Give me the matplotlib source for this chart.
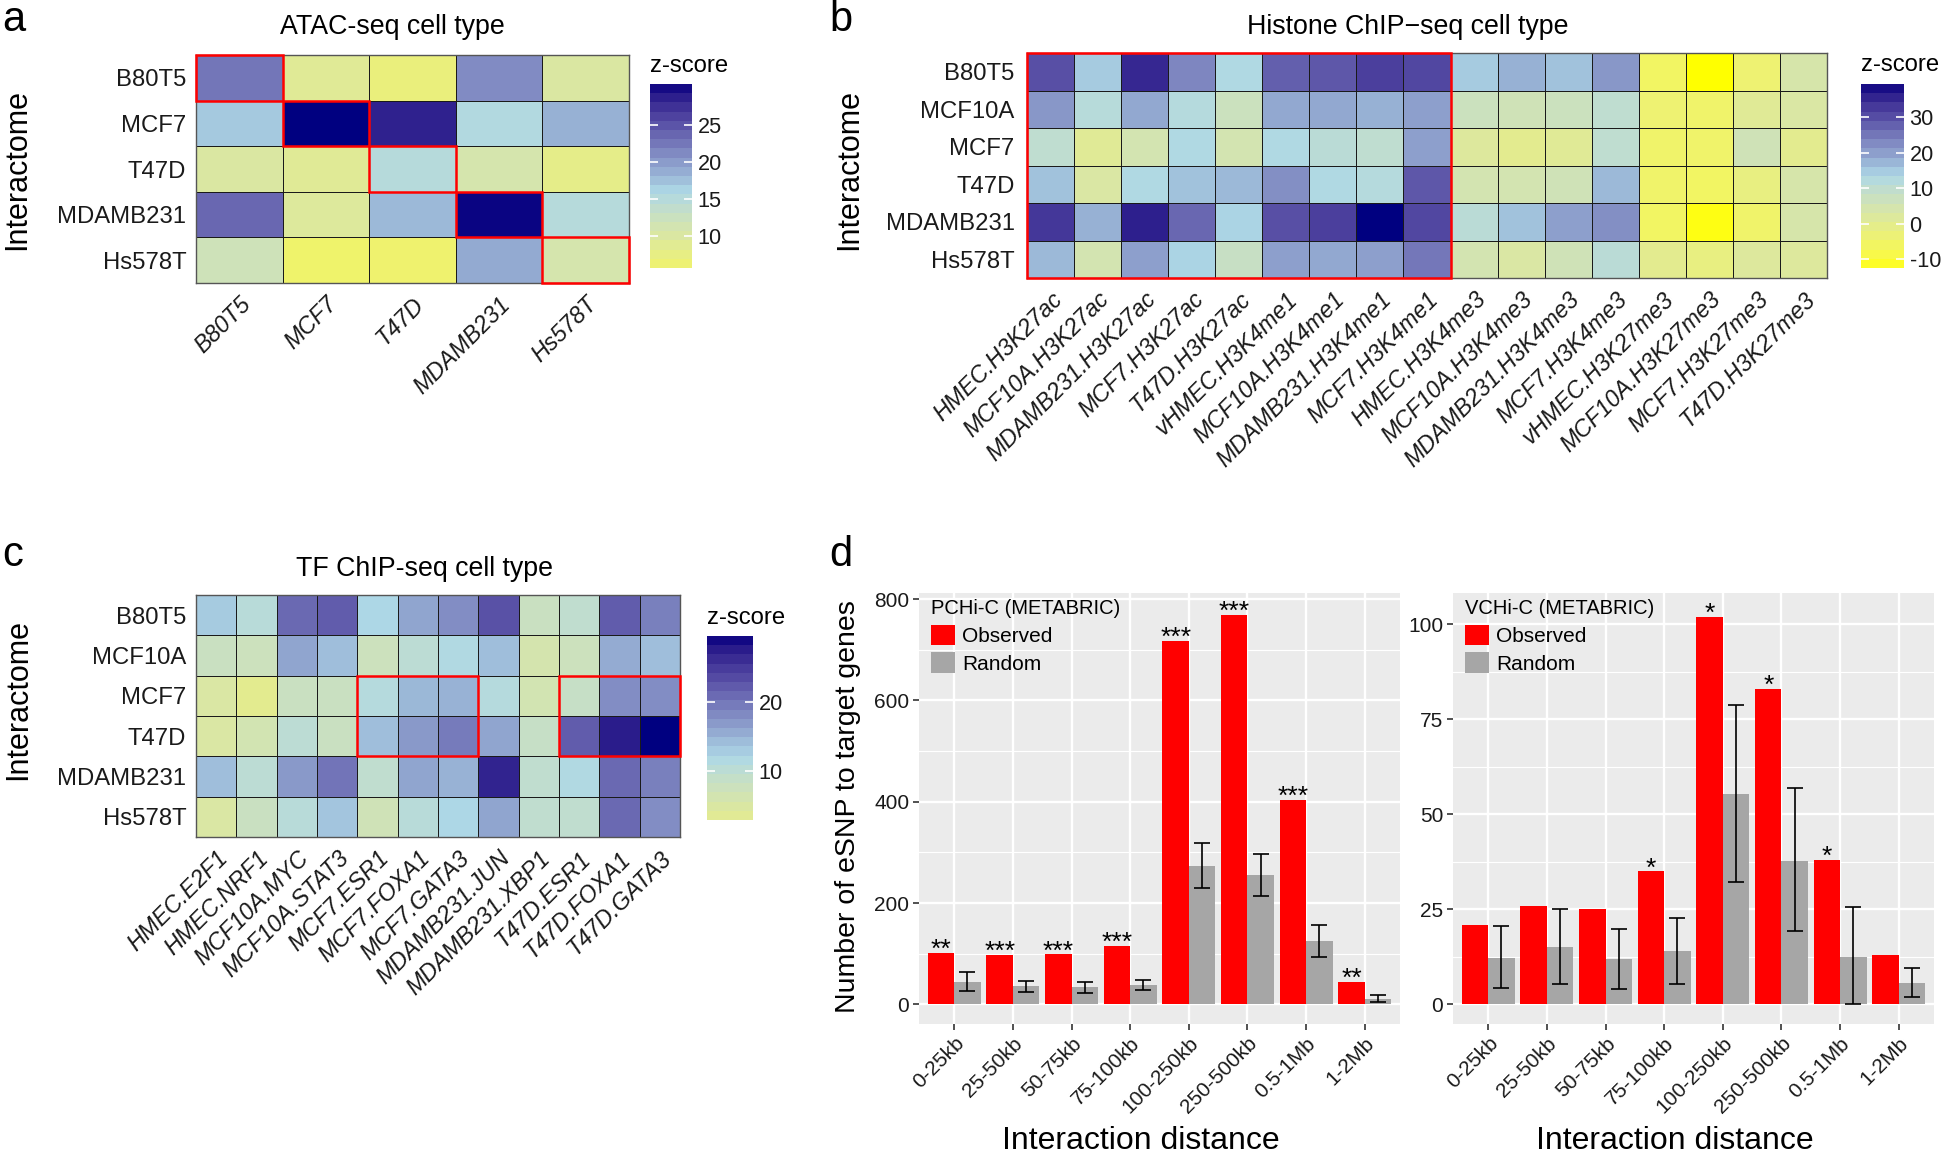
import numpy as np
import matplotlib
matplotlib.use("Agg")
import matplotlib.pyplot as plt
from matplotlib import font_manager
from matplotlib.colors import ListedColormap, Normalize, to_rgb
from matplotlib.patches import Rectangle

plt.rcParams['font.family'] = ['Liberation Sans', 'DejaVu Sans']

# heatmap panels use a condensed face
names = {f.name for f in font_manager.fontManager.ttflist}
if 'Liberation Sans Narrow' in names:
    HM_FAM = ['Liberation Sans Narrow', 'Liberation Sans', 'DejaVu Sans']
    K = 1.0
else:
    HM_FAM = ['Liberation Sans', 'DejaVu Sans']
    K = 0.82

W, H = 1946, 1156

# ---------------- data ----------------
# a: ATAC-seq
atac_rows = ["B80T5", "MCF7", "T47D", "MDAMB231", "Hs578T"]
atac_cols = ["B80T5", "MCF7", "T47D", "MDAMB231", "Hs578T"]
atac_z = [
    [22.5, 9.0, 7.0, 21.0, 10.0],
    [17.0, 30.5, 28.5, 15.5, 18.5],
    [10.0, 9.0, 15.0, 11.0, 8.0],
    [23.5, 9.5, 18.0, 30.2, 15.0],
    [12.0, 5.7, 6.0, 19.0, 11.0],
]

# b: histone ChIP-seq
hist_rows = ["B80T5", "MCF10A", "MCF7", "T47D", "MDAMB231", "Hs578T"]
hist_cols = ["HMEC.H3K27ac", "MCF10A.H3K27ac", "MDAMB231.H3K27ac", "MCF7.H3K27ac",
             "T47D.H3K27ac", "vHMEC.H3K4me1", "MCF10A.H3K4me1", "MDAMB231.H3K4me1",
             "MCF7.H3K4me1", "HMEC.H3K4me3", "MCF10A.H3K4me3", "MDAMB231.H3K4me3",
             "MCF7.H3K4me3", "vHMEC.H3K27me3", "MCF10A.H3K27me3", "MCF7.H3K27me3",
             "T47D.H3K27me3"]
hist_z = [
    [30, 15, 35, 23, 13, 28, 29, 32, 31, 15, 18, 16, 21, -6, -12.5, -4, 4],
    [21, 11.5, 19, 12, 7, 19, 19, 18, 20, 7, 6, 7, 10, -4, -5, 1, 3],
    [10, 1, 5, 13, 5, 13, 11, 10, 20, 2, 0, 1, 10, -5, -5, 6, 0],
    [16, 3, 13, 16, 17, 22, 13, 12, 29, 5, 5, 6, 17, -5, -6, -2, 4],
    [33, 18, 36, 27, 14, 30, 32, 39.4, 31, 11, 16, 20, 22, -6, -12, -5, 4],
    [17, 5, 20, 14, 8, 20, 19, 20, 25, 5, 3, 6, 11, 0, -2, 2, 2],
]

# c: TF ChIP-seq
tf_rows = ["B80T5", "MCF10A", "MCF7", "T47D", "MDAMB231", "Hs578T"]
tf_cols = ["HMEC.E2F1", "HMEC.NRF1", "MCF10A.MYC", "MCF10A.STAT3", "MCF7.ESR1",
           "MCF7.FOXA1", "MCF7.GATA3", "MDAMB231.JUN", "MDAMB231.XBP1", "T47D.ESR1",
           "T47D.FOXA1", "T47D.GATA3"]
tf_z = [
    [13, 10.5, 21, 22, 12, 16, 18, 23, 8, 9.5, 22, 19],
    [8, 7.5, 16, 14, 7.5, 10, 11.5, 14, 6, 7.5, 15.5, 14],
    [5, 2.85, 8, 8, 11, 14.5, 15, 11, 6.5, 8.5, 18, 18],
    [5, 6.5, 10, 8, 14, 17, 19.5, 16, 8.5, 22, 27.5, 29.5],
    [14, 10, 17, 20, 9.5, 16, 15, 27, 9.5, 11.5, 21, 19],
    [5, 8, 10.5, 13.5, 7, 10.5, 12, 16, 9.5, 9.5, 21, 18],
]

# d: eSNP counts by interaction distance
distances = ["0-25kb", "25-50kb", "50-75kb", "75-100kb", "100-250kb",
             "250-500kb", "0.5-1Mb", "1-2Mb"]
obs_pchic = [102, 98, 99, 116, 718, 769, 404, 45]
rnd_pchic = [44, 36, 34, 38, 273, 255, 125, 10]
lo_pchic = [27, 24, 22, 28, 230, 214, 94, 4]
hi_pchic = [63, 47, 45, 49, 318, 296, 157, 18]
stars_pchic = ["**", "***", "***", "***", "***", "***", "***", "**"]

obs_vchic = [21, 26, 25, 35, 102, 83, 38, 13]
rnd_vchic = [12.3, 15.2, 12.0, 14.1, 55.3, 37.8, 12.6, 5.7]
lo_vchic = [4.2, 5.3, 4.0, 5.5, 32.1, 19.2, 0.0, 1.9]
hi_vchic = [20.6, 25.1, 19.9, 22.7, 78.8, 56.9, 25.5, 9.6]
stars_vchic = ["", "", "", "*", "*", "*", "*", ""]


# ---------------- colour scale (yellow - lightblue - navy, Lab space) ----------------
M = np.array([[0.4124, 0.3576, 0.1805],
              [0.2126, 0.7152, 0.0722],
              [0.0193, 0.1192, 0.9505]])
WP = np.array([0.95047, 1.0, 1.08883])


def to_lab(c):
    c = np.asarray(c, float)
    lin = np.where(c <= 0.04045, c / 12.92, ((c + 0.055) / 1.055) ** 2.4)
    xyz = (M @ lin) / WP
    f = np.where(xyz > (6 / 29) ** 3, np.cbrt(xyz), xyz / (3 * (6 / 29) ** 2) + 4 / 29)
    return np.array([116 * f[1] - 16, 500 * (f[0] - f[1]), 200 * (f[1] - f[2])])


def from_lab(lab):
    fy = (lab[0] + 16) / 116
    f = np.array([fy + lab[1] / 500, fy, fy - lab[2] / 200])
    xyz = np.where(f > 6 / 29, f ** 3, 3 * (6 / 29) ** 2 * (f - 4 / 29)) * WP
    lin = np.clip(np.linalg.inv(M) @ xyz, 0, 1)
    return np.clip(np.where(lin <= 0.0031308, 12.92 * lin, 1.055 * lin ** (1 / 2.4) - 0.055), 0, 1)


labs = [to_lab(to_rgb(c)) for c in ["yellow", "lightblue", "navy"]]
cols_lab = []
for t in np.linspace(0, 1, 256):
    s = t * 2
    i = min(int(s), 1)
    f = s - i
    cols_lab.append(from_lab(labs[i] * (1 - f) + labs[i + 1] * f))
cmap = ListedColormap(cols_lab)

fig = plt.figure(figsize=(W / 100, H / 100), dpi=100)


def px_axes(x0, y0, x1, y1):
    return fig.add_axes([x0 / W, 1 - y1 / H, (x1 - x0) / W, (y1 - y0) / H])


def ftext(x, y, s, **kw):
    fig.text(x / W, 1 - y / H, s, **kw)


def heatmap(box, cbox, z, rows, cols, mid, cticks, boxes, ypad):
    z = np.array(z, float)
    lo, hi = z.min(), z.max()
    d = max(hi - mid, mid - lo)
    norm = Normalize(mid - d, mid + d)
    ax = px_axes(*box)
    ax.pcolormesh(z, cmap=cmap, norm=norm, edgecolors="#1a1a1a", linewidth=0.7)
    ax.set_xlim(0, len(cols))
    ax.set_ylim(len(rows), 0)
    ax.set_xticks(np.arange(len(cols)) + 0.5)
    ax.set_xticklabels(cols, rotation=45, ha="right", rotation_mode="anchor",
                       fontsize=20.5 * K, family=HM_FAM, style="italic")
    ax.set_yticks(np.arange(len(rows)) + 0.5)
    ax.set_yticklabels(rows, fontsize=21 * K, family=HM_FAM)
    ax.tick_params(length=0, colors="#1a1a1a")
    ax.tick_params(axis="y", pad=ypad)
    ax.tick_params(axis="x", pad=7)
    for sp in ax.spines.values():
        sp.set_color("#555555")
        sp.set_linewidth(1.0)
    for r0, c0, nr, nc in boxes:
        ax.add_patch(Rectangle((c0, r0), nc, nr, fill=False, ec="red", lw=1.8,
                               zorder=5, clip_on=False))
    # legend bar (20 bins like ggplot)
    cax = px_axes(*cbox)
    edges = np.linspace(lo, hi, 21)
    cax.pcolormesh([0, 1], edges, ((edges[:-1] + edges[1:]) / 2)[:, None],
                   cmap=cmap, norm=norm)
    cax.set_xlim(0, 1)
    cax.set_ylim(lo, hi)
    cax.set_xticks([])
    cax.yaxis.tick_right()
    cax.set_yticks(cticks)
    cax.set_yticklabels([str(v) for v in cticks], family=HM_FAM, fontsize=19 * K)
    cax.tick_params(axis="y", direction="in", length=6, width=1.2, color="white",
                    left=True, right=True, labelleft=False, labelright=True,
                    pad=4, labelcolor="#1a1a1a")
    for sp in cax.spines.values():
        sp.set_visible(False)
    return ax


hm_title = dict(ha="center", va="center", fontsize=23.5 * K, family=HM_FAM)
hm_ylab = dict(ha="center", va="center", rotation=90, fontsize=22)
hm_zlab = dict(ha="left", va="center", fontsize=21 * K, family=HM_FAM)

# a
heatmap((196, 55, 629, 283), (650, 84, 692, 268), atac_z, atac_rows, atac_cols,
        16.0, [10, 15, 20, 25], [(i, i, 1, 1) for i in range(5)], 7)
ftext(392, 27, "ATAC-seq cell type", **hm_title)
ftext(17, 170, "Interactome", **hm_ylab)
ftext(650, 66, "z-score", **hm_zlab)
ftext(2, 20, "a", ha="left", va="center", fontsize=30)

# b
heatmap((1027, 53, 1827, 278), (1861, 84, 1904, 268), hist_z, hist_rows, hist_cols,
        13.45, [-10, 0, 10, 20, 30], [(0, 0, 6, 9)], 9)
ftext(1408, 27, "Histone ChIP\u2212seq cell type", **hm_title)
ftext(849, 170, "Interactome", **hm_ylab)
ftext(1861, 65, "z-score", **hm_zlab)
ftext(829, 20, "b", ha="left", va="center", fontsize=30)

# c
heatmap((196, 595, 680, 837), (707, 636, 753, 820), tf_z, tf_rows, tf_cols,
        12.0, [10, 20], [(2, 4, 2, 3), (2, 9, 2, 3)], 7)
ftext(424, 569, "TF ChIP-seq cell type", **hm_title)
ftext(18, 700, "Interactome", **hm_ylab)
ftext(707, 618, "z-score", **hm_zlab)
ftext(2, 555, "c", ha="left", va="center", fontsize=30)


# d
def bars(box, obs, rnd, lo, hi, stars, ylim, yticks, yminor, leg_title):
    ax = px_axes(*box)
    ax.set_facecolor("#EBEBEB")
    x = np.arange(1, len(obs) + 1)
    rnd = np.array(rnd)
    ax.bar(x - 0.225, obs, 0.45, color="#FF0000", zorder=3, label="Observed")
    ax.bar(x + 0.225, rnd, 0.45, color="#A6A6A6", zorder=3, label="Random")
    ax.errorbar(x + 0.225, rnd, yerr=[rnd - np.array(lo), np.array(hi) - rnd], fmt="none",
                ecolor="black", elinewidth=1.2, capsize=6, capthick=1.2, zorder=4)
    for xi, v, s in zip(x, obs, stars):
        if s:
            ax.annotate(s, (xi - 0.225, v), xytext=(0, -3), textcoords="offset points",
                        ha="center", va="baseline", fontsize=19)
    ax.set_xlim(0.4, len(obs) + 0.6)
    ax.set_ylim(*ylim)
    ax.set_xticks(x, distances, rotation=45, ha="right", rotation_mode="anchor", fontsize=15)
    ax.set_yticks(yticks)
    ax.set_yticks(yminor, minor=True)
    ax.tick_params(axis="y", labelsize=15)
    ax.tick_params(which="major", length=4, width=1.2, color="#333333", labelcolor="#1a1a1a", pad=3)
    ax.tick_params(which="minor", length=0)
    ax.grid(which="major", color="white", lw=1.7)
    ax.grid(which="minor", axis="y", color="white", lw=0.8)
    ax.set_axisbelow(True)
    for sp in ax.spines.values():
        sp.set_visible(False)
    ax.legend(title=leg_title, loc="upper left", bbox_to_anchor=(0.025, 0.985),
              frameon=False, fontsize=15, title_fontsize=14.5, alignment="left",
              handlelength=1.15, handleheight=1.15, handletextpad=0.35,
              labelspacing=0.3, borderpad=0, borderaxespad=0)
    return ax


bars((919, 593, 1400, 1024), obs_pchic, rnd_pchic, lo_pchic, hi_pchic, stars_pchic,
     (-38.7, 812), [0, 200, 400, 600, 800], [100, 300, 500, 700], "PCHi-C (METABRIC)")
bars((1453, 593, 1934, 1024), obs_vchic, rnd_vchic, lo_vchic, hi_vchic, stars_vchic,
     (-5.15, 108.2), [0, 25, 50, 75, 100], [12.5, 37.5, 62.5, 87.5], "VCHi-C (METABRIC)")
ftext(1141, 1141, "Interaction distance", ha="center", va="center", fontsize=23)
ftext(1675, 1141, "Interaction distance", ha="center", va="center", fontsize=23)
ftext(848, 807, "Number of eSNP to target genes", ha="center", va="center",
      rotation=90, fontsize=20.5)
ftext(829, 555, "d", ha="left", va="center", fontsize=30)

fig.savefig("out.png", dpi=100)
